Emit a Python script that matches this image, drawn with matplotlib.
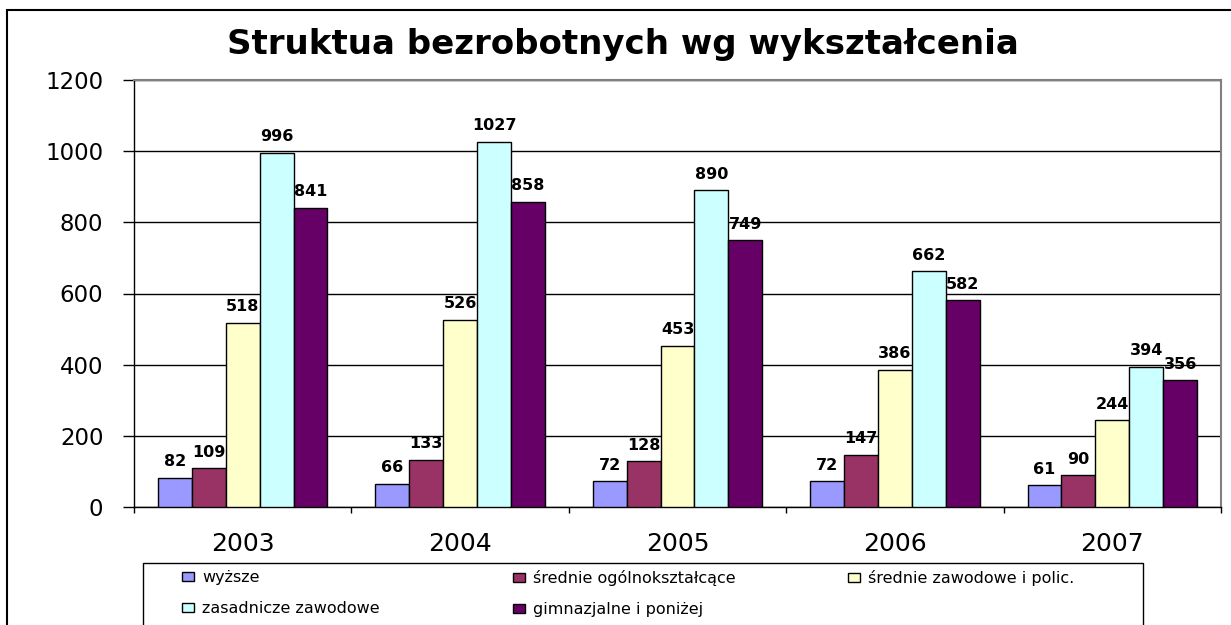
import numpy as np
import matplotlib
matplotlib.use('Agg')
import matplotlib.pyplot as plt
from matplotlib.patches import Rectangle

W, H = 1231, 625

years = ['2003', '2004', '2005', '2006', '2007']
wyzsze = [82, 66, 72, 72, 61]
srednie_ogolne = [109, 133, 128, 147, 90]
srednie_zawodowe = [518, 526, 453, 386, 244]
zasadnicze = [996, 1027, 890, 662, 394]
gimnazjalne = [841, 858, 749, 582, 356]

series_names = ['wyższe', 'średnie ogólnokształcące', 'średnie zawodowe i polic.',
                'zasadnicze zawodowe', 'gimnazjalne i poniżej']
series_values = [wyzsze, srednie_ogolne, srednie_zawodowe, zasadnicze, gimnazjalne]
colors = ['#9999FF', '#993366', '#FFFFCC', '#CCFFFF', '#660066']

plt.rcParams['font.family'] = ['DejaVu Sans']

fig = plt.figure(figsize=(W / 100, H / 100), dpi=100)
ax = fig.add_axes([134 / W, 1 - 507 / H, (1221 - 134) / W, (507 - 80) / H])

x = np.arange(len(years))
bw = 0.156
handles = []
for i, (name, vals, c) in enumerate(zip(series_names, series_values, colors)):
    pos = x + (i - 2) * bw
    bars = ax.bar(pos, vals, width=bw, color=c, edgecolor='black', linewidth=1.0,
                  label=name, zorder=3)
    handles.append(bars)
    for px, v in zip(pos, vals):
        ax.annotate(str(v), (px, v), xytext=(0, 6), textcoords='offset points',
                    ha='center', va='bottom', fontsize=11.5, fontweight='bold', zorder=4)

ax.set_xlim(-0.5, len(years) - 0.5)
ax.set_ylim(0, 1200)
ax.set_yticks(range(0, 1201, 200))
ax.set_yticklabels([str(v) for v in range(0, 1201, 200)], fontsize=16.5)
ax.tick_params(axis='y', length=8, width=1, pad=14, direction='out')
ax.set_xticks(x)
ax.set_xticklabels(years, fontsize=18)
ax.tick_params(axis='x', which='major', length=0, pad=18)
ax.set_xticks(np.arange(-0.5, len(years)), minor=True)
ax.tick_params(axis='x', which='minor', length=4.5, width=1, direction='out')

ax.yaxis.grid(True, color='black', linewidth=1, zorder=0)
ax.set_axisbelow(True)
for s in ['left', 'bottom']:
    ax.spines[s].set_color('black')
    ax.spines[s].set_linewidth(1)
for s in ['top', 'right']:
    ax.spines[s].set_color('#808080')
    ax.spines[s].set_linewidth(1.5)

fig.text(623 / W, 1 - 54 / H, 'Struktua bezrobotnych wg wykształcenia',
         ha='center', va='baseline', fontsize=24.5, fontweight='bold')

# outer chart border (runs off the right and bottom of the picture)
fig.add_artist(Rectangle((7 / W, -0.1), 1.2, 1.1 - 10 / H, transform=fig.transFigure,
                         fill=False, edgecolor='black', linewidth=1.5))

# legend box
fig.add_artist(Rectangle((143 / W, -0.1), (1143 - 143) / W, 0.1 + 1 - 563 / H,
                         transform=fig.transFigure, fill=False, edgecolor='black',
                         linewidth=1))

columns = [[0, 3], [1, 4], [2]]
col_x = [182, 513, 848]
for idx, cx in zip(columns, col_x):
    fig.legend([handles[i] for i in idx], [series_names[i] for i in idx],
               loc='upper left', bbox_to_anchor=(cx / W, 1 - 570 / H),
               frameon=False, fontsize=11.5, borderpad=0, borderaxespad=0,
               handlelength=0.75, handleheight=0.45, handletextpad=0.5,
               labelspacing=1.0)

fig.savefig('out.png', dpi=100)
